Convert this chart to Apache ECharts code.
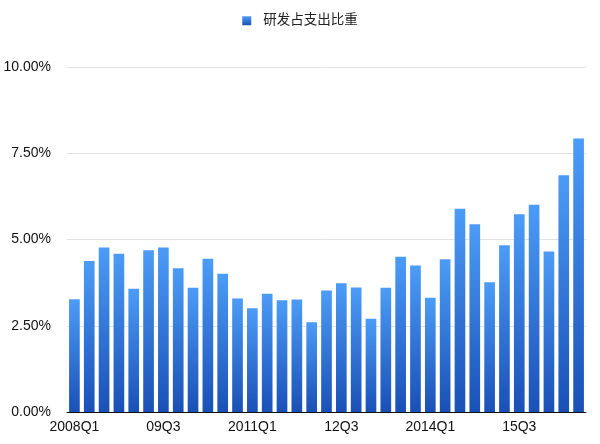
<!DOCTYPE html>
<html>
<head>
<meta charset="utf-8">
<script src="https://cdn.jsdelivr.net/npm/echarts@6/dist/echarts.min.js"></script>
<style>
  html, body { margin: 0; padding: 0; background: #fff; }
  #chart { width: 600px; height: 444px; }
</style>
</head>
<body>
<div id="chart"></div>
<script>
// 季度：Q1 用四位年份，其余用两位年份
const quarters = [
  '2008Q1', '08Q2', '08Q3', '08Q4',
  '2009Q1', '09Q2', '09Q3', '09Q4',
  '2010Q1', '10Q2', '10Q3', '10Q4',
  '2011Q1', '11Q2', '11Q3', '11Q4',
  '2012Q1', '12Q2', '12Q3', '12Q4',
  '2013Q1', '13Q2', '13Q3', '13Q4',
  '2014Q1', '14Q2', '14Q3', '14Q4',
  '2015Q1', '15Q2', '15Q3', '15Q4',
  '2016Q1', '16Q2', '16Q3',
]

// 研发占支出比重 (%)
const rdShare = [
  3.27, 4.38, 4.77, 4.59,
  3.57, 4.69, 4.77, 4.17,
  3.60, 4.44, 4.01, 3.29,
  3.01, 3.43, 3.24, 3.26,
  2.60, 3.52, 3.73, 3.61,
  2.70, 3.60, 4.50, 4.25,
  3.31, 4.43, 5.89, 5.44,
  3.76, 4.83, 5.73, 6.01,
  4.65, 6.86, 7.93,
]

const seriesName = '研发占支出比重'
const yTicks = { min: 0, max: 10, interval: 2.5 }

const font = '"Liberation Sans", "Noto Sans CJK SC", sans-serif'
const barColor = new echarts.graphic.LinearGradient(0, 0, 0, 1, [
  { offset: 0, color: '#4c9cf7' },
  { offset: 1, color: '#1a50b6' },
])

const chart = echarts.init(document.getElementById('chart'))

const option = {
  animation: false,
  backgroundColor: '#fff',
  legend: {
    top: 9,
    left: 'center',
    itemWidth: 9,
    itemHeight: 9,
    textStyle: {
      fontFamily: font,
      fontSize: 13.5,
      color: '#222',
      padding: [0, 0, 0, 7],
    },
    data: [{ name: seriesName, icon: 'rect' }],
  },
  grid: {
    left: 67,
    right: 14,
    top: 67,
    bottom: 32,
  },
  xAxis: {
    type: 'category',
    data: quarters,
    axisLine: { lineStyle: { color: '#111', width: 1 } },
    axisTick: { show: false },
    axisLabel: {
      interval: 5,
      color: '#111',
      fontFamily: font,
      fontSize: 14,
      margin: 8,
    },
  },
  yAxis: {
    type: 'value',
    min: yTicks.min,
    max: yTicks.max,
    interval: yTicks.interval,
    axisLine: { show: false },
    axisTick: { show: false },
    splitLine: { lineStyle: { color: '#e2e2e2' } },
    axisLabel: {
      color: '#111',
      fontFamily: font,
      fontSize: 14,
      margin: 16,
      formatter: v => `${v.toFixed(2)}%`,
    },
  },
  series: [
    {
      name: seriesName,
      type: 'bar',
      data: rdShare,
      barCategoryGap: '28%',
      itemStyle: { color: barColor },
    },
  ],
}

chart.setOption(option)
</script>
</body>
</html>
